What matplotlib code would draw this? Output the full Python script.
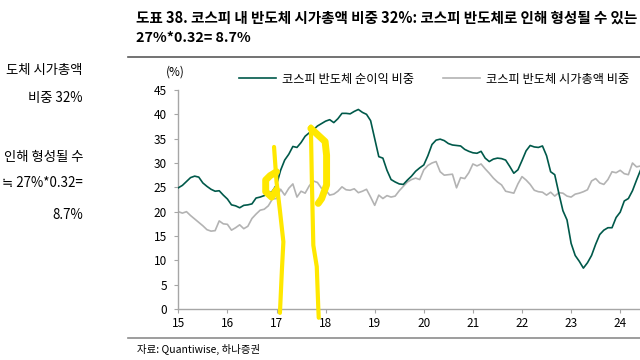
import numpy as np
import matplotlib
matplotlib.use("Agg")
import matplotlib.pyplot as plt
from matplotlib.lines import Line2D

plt.rcParams['font.family'] = ['Noto Sans CJK KR', 'DejaVu Sans']

# monthly series, Jan 2015 onwards
start_year = 2015
net_income_share = [
    24.9, 25.4, 26.2, 27.0, 27.3, 27.1, 25.9, 25.2, 24.6, 24.2, 24.3, 23.4,
    22.6, 21.4, 21.2, 20.8, 21.3, 21.4, 21.6, 22.8, 23.0, 23.3, 23.7, 24.2,
    25.5, 28.5, 30.6, 31.8, 33.4, 33.2, 34.2, 35.5, 36.2, 36.8, 37.6, 38.1,
    38.6, 38.9, 38.3, 39.1, 40.2, 40.2, 40.1, 40.6, 41.0, 40.4, 40.0, 38.7,
    35.0, 31.3, 31.0, 28.5, 26.6, 26.1, 25.7, 25.6, 26.5, 27.3, 28.3, 29.0,
    29.6, 31.5, 33.8, 34.7, 34.9, 34.6, 34.0, 33.7, 33.6, 33.5, 32.8, 32.4,
    32.1, 32.0, 32.4, 31.0, 30.3, 30.8, 31.0, 30.9, 30.6, 29.3, 27.9, 28.6,
    30.5, 32.5, 33.6, 33.3, 33.2, 33.5, 31.5, 28.2, 27.6, 23.8, 20.2, 18.3,
    13.5, 11.0, 9.8, 8.4, 9.5, 11.0, 13.3, 15.3, 16.2, 16.7, 16.7, 18.8,
    19.9, 22.2, 22.7, 24.3, 26.5, 28.6,
]
mktcap_share = [
    20.0, 19.7, 20.0, 19.2, 18.5, 17.8, 17.1, 16.3, 16.0, 16.1, 18.1, 17.5,
    17.4, 16.2, 16.7, 17.3, 16.5, 17.0, 18.6, 19.5, 20.3, 20.5, 21.2, 22.6,
    22.7, 24.6, 23.4, 24.8, 25.7, 23.0, 24.2, 23.8, 25.3, 26.3, 26.0, 24.8,
    24.5, 23.4, 23.6, 24.2, 25.1, 24.5, 24.4, 24.7, 23.9, 24.2, 24.6, 23.0,
    21.3, 23.4, 22.7, 23.3, 23.0, 23.2, 24.3, 25.2, 26.1, 26.6, 26.9, 26.6,
    28.6, 29.5, 30.0, 30.3, 28.2, 27.5, 27.6, 27.7, 24.9, 27.0, 26.8, 28.0,
    29.8, 29.4, 29.8, 28.8, 27.9, 26.9, 26.1, 25.5, 24.2, 24.0, 23.8, 25.7,
    27.2, 26.5, 25.6, 24.4, 24.1, 24.0, 23.4, 24.0, 23.2, 23.9, 23.8, 23.2,
    23.0, 23.6, 23.8, 24.1, 24.5, 26.3, 26.8, 25.9, 25.6, 26.6, 28.2, 28.0,
    28.5, 27.8, 27.6, 30.0, 29.2, 29.4,
]
year_ticks = list(range(2015, 2025))
year_labels = [str(y)[2:] for y in year_ticks]
y_ticks = list(range(0, 50, 5))
labels = ['코스피 반도체 순이익 비중', '코스피 반도체 시가총액 비중']

# hand-drawn highlighter marks on the source image (year, %)
mark1_stem = [(2016.95, 33.3), (2017.0, 26.2), (2017.07, 20.2), (2017.14, 13.8),
              (2017.11, 8.0), (2017.07, -0.8)]
mark1_loop = [(2017.0, 28.2), (2016.87, 27.4), (2016.78, 26.5), (2016.78, 24.1),
              (2016.90, 23.0), (2017.0, 24.5)]
mark2_stem = [(2017.70, 37.5), (2017.72, 26.5), (2017.75, 13.1), (2017.82, 8.7),
              (2017.85, 0.5), (2017.86, -1.8)]
mark2_hook = [(2017.70, 37.1), (2017.99, 34.4), (2018.02, 31.6), (2018.02, 25.5),
              (2017.92, 22.7), (2017.85, 21.7)]

t = start_year + np.arange(len(net_income_share)) / 12.0

fig = plt.figure(figsize=(6.4, 3.6), dpi=100)
ax = fig.add_axes([178.3 / 640, 51 / 360, 1 - 178.3 / 640, 219 / 360])

green = '#00594a'
grey = '#b3b3b3'
axis_col = '#a6a6a6'

ax.plot(t, net_income_share, color=green, lw=1.2, label=labels[0], zorder=3)
ax.plot(t, mktcap_share, color=grey, lw=1.2, label=labels[1], zorder=2)

for pts, w in [(mark1_stem, 3), (mark1_loop, 5), (mark2_stem, 3), (mark2_hook, 5)]:
    xs, ys = zip(*pts)
    ax.plot(xs, ys, color='#ffe800', lw=w, solid_capstyle='round',
            solid_joinstyle='round', clip_on=False, zorder=4)

ax.set_xlim(2015, 2015 + (640 - 178.3) / 49.1)
ax.set_ylim(0, 45)
ax.set_xticks(year_ticks)
ax.set_xticklabels(year_labels)
ax.set_yticks(y_ticks)

for s in ['top', 'right']:
    ax.spines[s].set_visible(False)
for s in ['left', 'bottom']:
    ax.spines[s].set_color(axis_col)
    ax.spines[s].set_linewidth(1.0)
ax.tick_params(axis='both', colors=axis_col, length=3, width=0.8,
               labelcolor='#000000', labelsize=8.5)
ax.tick_params(axis='y', pad=5)
ax.tick_params(axis='x', pad=3)

fig.text(175 / 640, 1 - 72 / 360, '(%)', fontsize=8.5, ha='center', va='center')

fig.legend(loc='center left', bbox_to_anchor=(239 / 640, 1 - 79 / 360), ncol=2,
           frameon=False, fontsize=8.8, handlelength=3.0, handletextpad=0.5,
           columnspacing=2.4, borderpad=0, borderaxespad=0)

fig.text(136 / 640, 1 - 18 / 360,
         '도표 38. 코스피 내 반도체 시가총액 비중 32%: 코스피 반도체로 인해 형성될 수 있는',
         fontsize=10.5, fontweight='bold', va='center', ha='left')
fig.text(136 / 640, 1 - 38 / 360, '27%*0.32= 8.7%',
         fontsize=10.3, fontweight='bold', va='center', ha='left')
fig.add_artist(Line2D([128 / 640, 1], [1 - 57 / 360] * 2, color='#5a5a5a', lw=1.2))
fig.add_artist(Line2D([128 / 640, 1], [1 - 337.5 / 360] * 2, color='#8c8c8c', lw=1.2))
fig.text(137 / 640, 1 - 349 / 360, '자료: Quantiwise, 하나증권', fontsize=7.5,
         va='center', ha='left')

side_lines = [('도체 시가총액', 70), ('비중 32%', 98), ('인해 형성될 수', 157),
              ('≒ 27%*0.32=', 183), ('8.7%', 215)]
for txt, ypx in side_lines:
    fig.text(83 / 640, 1 - ypx / 360, txt, fontsize=9.6, ha='right', va='center')

fig.savefig('out.png', dpi=100)
